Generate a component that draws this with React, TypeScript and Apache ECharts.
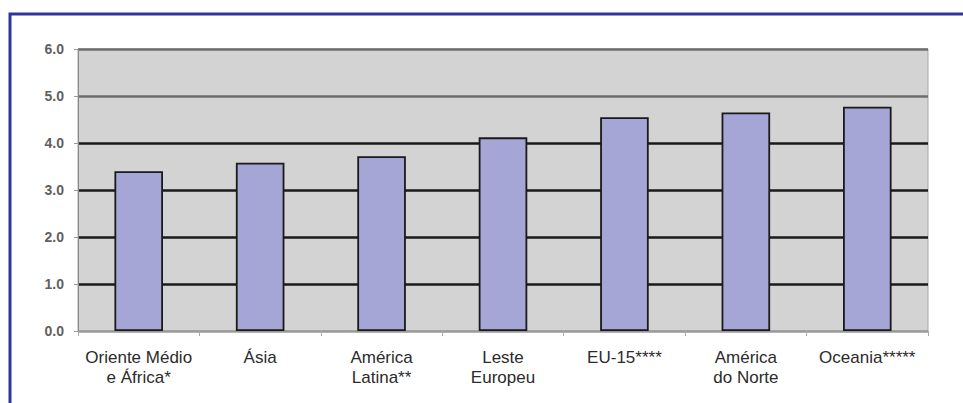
import React, { useEffect, useRef } from "react";
import * as echarts from "echarts";

const categories = [
  "Oriente Médio\ne África*",
  "Ásia",
  "América\nLatina**",
  "Leste\nEuropeu",
  "EU-15****",
  "América\ndo Norte",
  "Oceania*****",
];
const values = [3.4, 3.58, 3.72, 4.12, 4.55, 4.65, 4.77];
const yTicks = [0, 1, 2, 3, 4, 5, 6];

export default function App() {
  const ref = useRef<HTMLDivElement>(null);
  useEffect(() => {
    if (!ref.current) return;
    const chart = echarts.init(ref.current, undefined, { renderer: "svg" });
    chart.setOption({
      animation: false,
      backgroundColor: "#ffffff",
      grid: {
        left: 78,
        right: 35,
        top: 49,
        bottom: 72,
        show: true,
        backgroundColor: "#d3d3d3",
        borderColor: "#a8a8a8",
        borderWidth: 1,
      },
      xAxis: {
        type: "category",
        data: categories,
        axisLine: { show: true, lineStyle: { color: "#9a9a9a", width: 1 } },
        axisTick: { show: true, length: 5, lineStyle: { color: "#aaaaaa" } },
        axisLabel: {
          margin: 16,
          fontFamily: "Liberation Sans",
          fontSize: 17,
          lineHeight: 20,
          color: "#2b2b2b",
          interval: 0,
        },
      },
      yAxis: {
        type: "value",
        min: yTicks[0],
        max: yTicks[yTicks.length - 1],
        interval: 1,
        axisLine: { show: true, lineStyle: { color: "#8a8a8a", width: 1 } },
        axisTick: { show: true, length: 4, lineStyle: { color: "#9a9a9a" } },
        axisLabel: {
          margin: 14,
          fontFamily: "Liberation Sans",
          fontSize: 14,
          fontWeight: "bold",
          color: "#606060",
          formatter: (v: number) => v.toFixed(1),
        },
        splitLine: {
          show: true,
          lineStyle: {
            color: ["#9a9a9a", "#1a1a1a", "#1a1a1a", "#1a1a1a", "#1a1a1a", "#6e6e6e", "#6e6e6e"],
            width: 2.5,
          },
        },
      },
      series: [
        {
          type: "bar",
          data: values,
          barWidth: "40%",
          itemStyle: {
            color: "#a5a6d6",
            borderColor: "#1a1a1a",
            borderWidth: 1.8,
          },
        },
      ],
      graphic: [
        {
          type: "polyline",
          silent: true,
          shape: {
            points: [
              [10, 403],
              [10, 14],
              [963, 14],
            ],
          },
          style: { stroke: "#30349a", lineWidth: 3, fill: null },
        },
      ],
    });
    return () => chart.dispose();
  }, []);
  return (
    <div
      ref={ref}
      style={{ position: "fixed", left: 0, top: 0, width: 963, height: 403 }}
    />
  );
}
